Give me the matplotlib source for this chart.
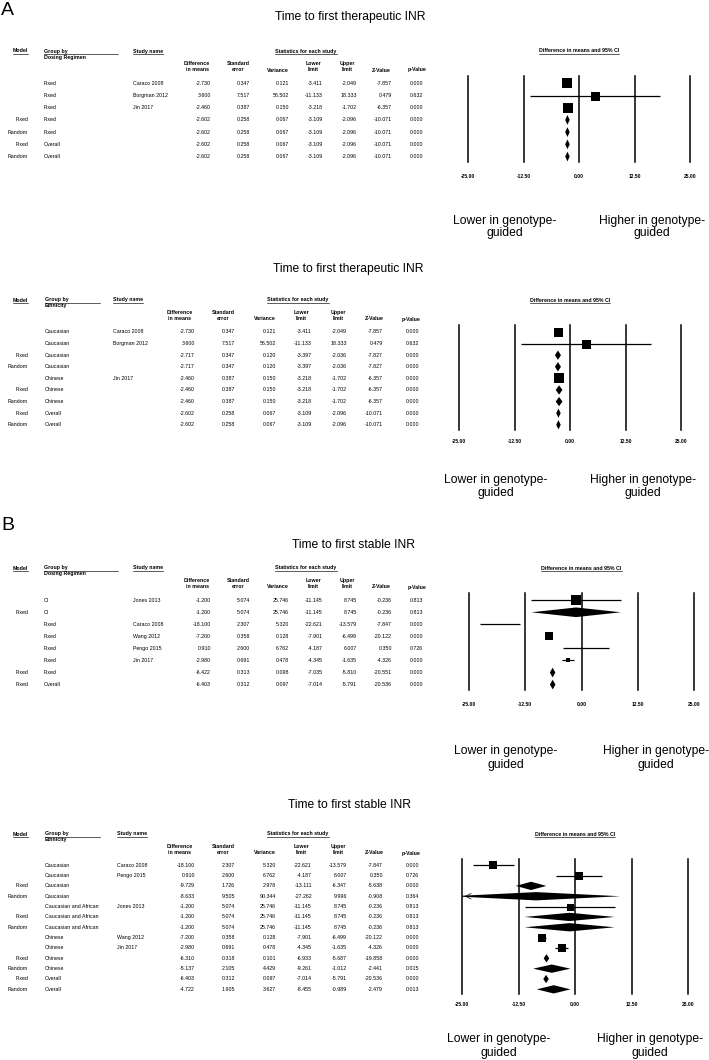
import matplotlib.pyplot as plt
from matplotlib.lines import Line2D
from matplotlib.transforms import Affine2D, blended_transform_factory

plt.rcParams['font.family'] = ['Liberation Sans', 'DejaVu Sans']

# A (top): time to first therapeutic INR, grouped by dosing regimen
a1_model = ['', '', '', 'Fixed', 'Random', 'Fixed', 'Random']
a1_group = ['Fixed', 'Fixed', 'Fixed', 'Fixed', 'Fixed', 'Overall', 'Overall']
a1_study = ['Caraco 2008', 'Borgman 2012', 'Jin 2017', '', '', '', '']
a1_diff = [-2.730, 3.600, -2.460, -2.602, -2.602, -2.602, -2.602]
a1_se = [0.347, 7.517, 0.387, 0.258, 0.258, 0.258, 0.258]
a1_var = [0.121, 56.502, 0.150, 0.067, 0.067, 0.067, 0.067]
a1_lo = [-3.411, -11.133, -3.218, -3.109, -3.109, -3.109, -3.109]
a1_hi = [-2.049, 18.333, -1.702, -2.096, -2.096, -2.096, -2.096]
a1_z = [-7.857, 0.479, -6.357, -10.071, -10.071, -10.071, -10.071]
a1_p = [0.000, 0.632, 0.000, 0.000, 0.000, 0.000, 0.000]

# A (bottom): time to first therapeutic INR, grouped by ethnicity
a2_model = ['', '', 'Fixed', 'Random', '', 'Fixed', 'Random', 'Fixed', 'Random']
a2_group = ['Caucasian', 'Caucasian', 'Caucasian', 'Caucasian', 'Chinese',
            'Chinese', 'Chinese', 'Overall', 'Overall']
a2_study = ['Caraco 2008', 'Borgman 2012', '', '', 'Jin 2017', '', '', '', '']
a2_diff = [-2.730, 3.600, -2.717, -2.717, -2.460, -2.460, -2.460, -2.602, -2.602]
a2_se = [0.347, 7.517, 0.347, 0.347, 0.387, 0.387, 0.387, 0.258, 0.258]
a2_var = [0.121, 56.502, 0.120, 0.120, 0.150, 0.150, 0.150, 0.067, 0.067]
a2_lo = [-3.411, -11.133, -3.397, -3.397, -3.218, -3.218, -3.218, -3.109, -3.109]
a2_hi = [-2.049, 18.333, -2.036, -2.036, -1.702, -1.702, -1.702, -2.096, -2.096]
a2_z = [-7.857, 0.479, -7.827, -7.827, -6.357, -6.357, -6.357, -10.071, -10.071]
a2_p = [0.000, 0.632, 0.000, 0.000, 0.000, 0.000, 0.000, 0.000, 0.000]

# B (top): time to first stable INR, grouped by dosing regimen
b1_model = ['', 'Fixed', '', '', '', '', 'Fixed', 'Fixed']
b1_group = ['Cl', 'Cl', 'Fixed', 'Fixed', 'Fixed', 'Fixed', 'Fixed', 'Overall']
b1_study = ['Jones 2013', '', 'Caraco 2008', 'Wang 2012', 'Pengo 2015', 'Jin 2017', '', '']
b1_diff = [-1.200, -1.200, -18.100, -7.200, 0.910, -2.980, -6.422, -6.403]
b1_se = [5.074, 5.074, 2.307, 0.358, 2.600, 0.691, 0.313, 0.312]
b1_var = [25.746, 25.746, 5.320, 0.128, 6.762, 0.478, 0.098, 0.097]
b1_lo = [-11.145, -11.145, -22.621, -7.901, -4.187, -4.345, -7.035, -7.014]
b1_hi = [8.745, 8.745, -13.579, -6.499, 6.007, -1.635, -5.810, -5.791]
b1_z = [-0.236, -0.236, -7.847, -20.122, 0.350, -4.326, -20.551, -20.536]
b1_p = [0.813, 0.813, 0.000, 0.000, 0.726, 0.000, 0.000, 0.000]

# B (bottom): time to first stable INR, grouped by ethnicity
b2_model = ['', '', 'Fixed', 'Random', '', 'Fixed', 'Random', '', '', 'Fixed', 'Random',
            'Fixed', 'Random']
b2_group = ['Caucasian'] * 4 + ['Caucasian and African'] * 3 + ['Chinese'] * 4 + ['Overall'] * 2
b2_study = ['Caraco 2008', 'Pengo 2015', '', '', 'Jones 2013', '', '', 'Wang 2012',
            'Jin 2017', '', '', '', '']
b2_diff = [-18.100, 0.910, -9.729, -8.633, -1.200, -1.200, -1.200, -7.200, -2.980,
           -6.310, -5.137, -6.403, -4.722]
b2_se = [2.307, 2.600, 1.726, 9.505, 5.074, 5.074, 5.074, 0.358, 0.691, 0.318, 2.105,
         0.312, 1.905]
b2_var = [5.320, 6.762, 2.978, 90.344, 25.746, 25.746, 25.746, 0.128, 0.478, 0.101,
          4.429, 0.097, 3.627]
b2_lo = [-22.621, -4.187, -13.111, -27.262, -11.145, -11.145, -11.145, -7.901, -4.345,
         -6.933, -9.261, -7.014, -8.455]
b2_hi = [-13.579, 6.007, -6.347, 9.996, 8.745, 8.745, 8.745, -6.499, -1.635, -5.687,
         -1.012, -5.791, -0.989]
b2_z = [-7.847, 0.350, -5.638, -0.908, -0.236, -0.236, -0.236, -20.122, -4.326,
        -19.858, -2.441, -20.536, -2.479]
b2_p = [0.000, 0.726, 0.000, 0.364, 0.813, 0.813, 0.813, 0.000, 0.000, 0.000, 0.015,
        0.000, 0.013]

ticks = [-25, -12.5, 0, 12.5, 25]
col_names = ['Difference\nin means', 'Standard\nerror', 'Variance', 'Lower\nlimit',
             'Upper\nlimit', 'Z-Value', 'p-Value']

W, H = 709, 1060
fig = plt.figure(figsize=(W / 100, H / 100), dpi=100)
px = Affine2D().scale(1 / W, -1 / H).translate(0, 1) + fig.transFigure
rend = fig.canvas.get_renderer()

SMALL = 3.8
BIG = 8.7


def underline(t, x_end=None):
    bb = t.get_window_extent(rend)
    x1 = bb.x1 if x_end is None else x_end
    fig.add_artist(Line2D([bb.x0, x1], [H - bb.y0 + 0.3] * 2, transform=px,
                          color='black', lw=0.45))


def panel(title, grp_title, model, group, study, diff, se, var, lo, hi, z, p, lay):
    n = len(diff)
    x0, x1 = lay['fx']
    top, bot = lay['fy']
    ax = fig.add_axes([x0 / W, 1 - bot / H, (x1 - x0) / W, (bot - top) / H])
    ax.set_xlim(-25, 25)
    ax.set_ylim(n - 1 + 0.45, -0.6)
    for s in ax.spines.values():
        s.set_visible(False)
    ax.set_yticks([])
    ax.set_xticks(ticks, [f'{t:.2f}' for t in ticks], fontsize=3.6, fontweight='bold')
    ax.tick_params(axis='x', length=0, pad=lay['pad'])
    ax.patch.set_alpha(0)
    for t in ticks:
        ax.axvline(t, color='black', lw=1.1, clip_on=False)

    k = 0
    for i in range(n):
        if model[i] == '':
            ax.hlines(i, lo[i], hi[i], color='black', lw=0.9)
            if lay['box'][k] > 0:
                ax.plot(diff[i], i, 's', color='black', mew=0, ms=lay['box'][k] * 0.72)
            k += 1
        else:
            ax.fill([lo[i], diff[i], hi[i], diff[i]], [i, i - 0.4, i, i + 0.4],
                    color='black', lw=0)
        if lo[i] < -25:
            ax.annotate('', xy=(-25, i), xytext=(-21, i), annotation_clip=False,
                        arrowprops=dict(arrowstyle='->', lw=0.5, color='black'))

    # table rows share the forest's row scale
    tr = blended_transform_factory(px, ax.transData)
    for i in range(n):
        fig.text(lay['model_r'], i, model[i], transform=tr, ha='right', va='center', fontsize=SMALL)
        fig.text(lay['group_l'], i, group[i], transform=tr, ha='left', va='center', fontsize=SMALL)
        fig.text(lay['study_l'], i, study[i], transform=tr, ha='left', va='center', fontsize=SMALL)
        for xr, v in zip(lay['cols'], (diff[i], se[i], var[i], lo[i], hi[i], z[i], p[i])):
            fig.text(xr, i, f'{v:.3f}', transform=tr, ha='right', va='center', fontsize=SMALL)

    # headers
    h1 = top - 25
    hb = dict(transform=px, va='center', fontsize=SMALL, fontweight='bold')
    underline(fig.text(lay['model_r'], h1, 'Model', ha='right', **hb))
    underline(fig.text(lay['group_l'], h1, 'Group by', ha='left', **hb), lay['gline'])
    fig.text(lay['group_l'], h1 + 6, grp_title, ha='left', **hb)
    underline(fig.text(lay['study_l'], h1, 'Study name', ha='left', **hb))
    underline(fig.text(lay['stats_c'], h1, 'Statistics for each study', ha='center', **hb))
    for xc, s in zip(lay['heads'], col_names):
        y = h1 + 15.5 if '\n' in s else h1 + 19
        fig.text(xc, y, s, ha='center', multialignment='center', linespacing=1.05, **hb)
    underline(fig.text((x0 + x1) / 2, h1, 'Difference in means and 95% CI', ha='center', **hb))

    fig.text(lay['title'][0], lay['title'][1], title, transform=px, ha='center',
             va='center', fontsize=BIG)
    y1, y2 = lay['lab_y']
    for xc, s in ((x0 + 37, 'Lower in genotype-'), (x1 - 38, 'Higher in genotype-')):
        fig.text(xc, y1, s, transform=px, ha='center', va='center', fontsize=BIG)
        fig.text(xc, y2, 'guided', transform=px, ha='center', va='center', fontsize=BIG)


wide = dict(model_r=28, group_l=44, gline=118, study_l=133,
            cols=[211, 250, 289, 323, 357, 392, 423],
            heads=[197, 238, 278, 313, 347, 381, 417], stats_c=306)
narrow = dict(model_r=28, group_l=45, gline=100, study_l=115,
              cols=[195, 235, 276, 312, 347, 383, 419],
              heads=[180, 223, 265, 301, 338, 374, 411], stats_c=298)

panel('Time to first therapeutic INR', 'Dosing Regimen', a1_model, a1_group, a1_study,
      a1_diff, a1_se, a1_var, a1_lo, a1_hi, a1_z, a1_p,
      dict(wide, fx=(468, 690), fy=(76, 162), pad=8.6, box=[9.5, 9, 10],
           title=(350, 17), lab_y=(221, 233)))
panel('Time to first therapeutic INR', 'Ethnicity', a2_model, a2_group, a2_study,
      a2_diff, a2_se, a2_var, a2_lo, a2_hi, a2_z, a2_p,
      dict(narrow, study_l=113, fx=(459, 681), fy=(325, 430), pad=6.5, box=[9, 9, 9.5],
           title=(348, 269), lab_y=(480, 493)))
panel('Time to first stable INR', 'Dosing Regimen', b1_model, b1_group, b1_study,
      b1_diff, b1_se, b1_var, b1_lo, b1_hi, b1_z, b1_p,
      dict(wide, fx=(469, 694), fy=(593, 690), pad=8.6, box=[10, 0, 8, 0, 4],
           title=(354, 545), lab_y=(751, 765)))
panel('Time to first stable INR', 'Ethnicity', b2_model, b2_group, b2_study,
      b2_diff, b2_se, b2_var, b2_lo, b2_hi, b2_z, b2_p,
      dict(narrow, study_l=117, fx=(462, 688), fy=(859, 994), pad=5.8,
           box=[8, 8, 7, 7.5, 7.5], title=(350, 805), lab_y=(1039, 1053)))

fig.text(1, 15, 'A', transform=px, ha='left', va='baseline', fontsize=14)
fig.text(1, 530, 'B', transform=px, ha='left', va='baseline', fontsize=14)

fig.savefig('out.png', dpi=100)
